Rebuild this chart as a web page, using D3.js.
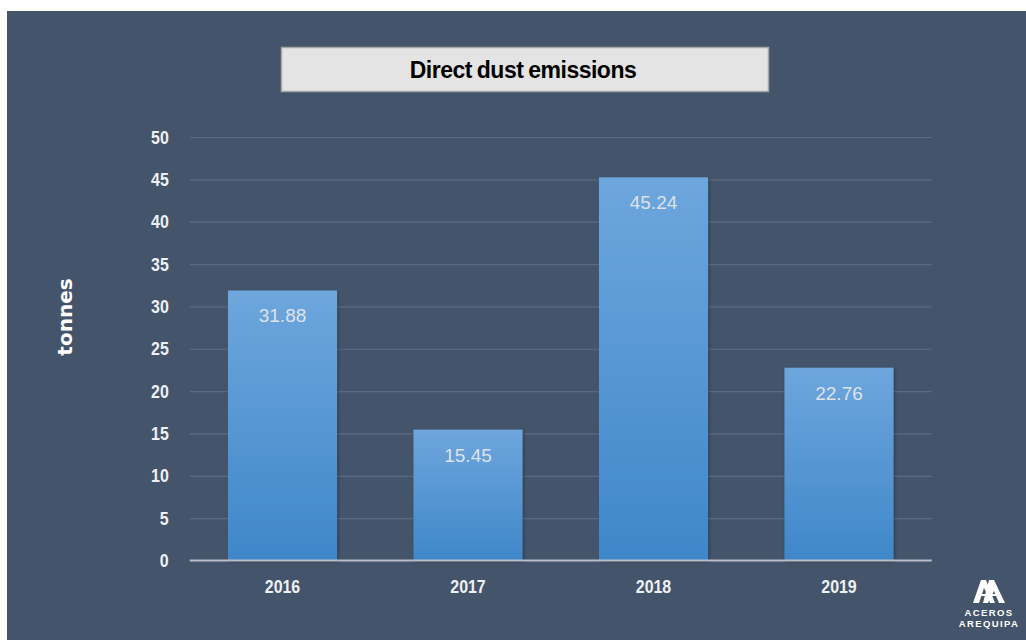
<!DOCTYPE html>
<html><head><meta charset="utf-8">
<script src="https://cdn.jsdelivr.net/npm/d3@7"></script>
<style>
html,body{margin:0;padding:0;background:#fff;}
svg{display:block;}
</style></head>
<body>
<svg id="chart" width="1026" height="640"></svg>
<script>
const categories = ["2016", "2017", "2018", "2019"];
const values = [31.88, 15.45, 45.24, 22.76];
const yTicks = [0, 5, 10, 15, 20, 25, 30, 35, 40, 45, 50];
const titleText = "Direct dust emissions";
const yAxisTitle = "tonnes";
const logoLines = ["ACEROS", "AREQUIPA"];

const svg = d3.select("#chart");
const sans = "'Liberation Sans',Arial,sans-serif";
const squeeze = 0.84;

// background panel
svg.append("rect").attr("x", 7).attr("y", 11).attr("width", 1019).attr("height", 629).attr("fill", "#44546a");

const defs = svg.append("defs");
const grad = defs.append("linearGradient").attr("id", "barGrad").attr("x1", 0).attr("y1", 0).attr("x2", 0).attr("y2", 1);
grad.append("stop").attr("offset", "0%").attr("stop-color", "#6ea6dd");
grad.append("stop").attr("offset", "100%").attr("stop-color", "#3f87c9");
const sh = defs.append("filter").attr("id", "shadow").attr("x", "-20%").attr("y", "-10%").attr("width", "140%").attr("height", "120%");
sh.append("feDropShadow").attr("dx", 1).attr("dy", 1).attr("stdDeviation", 1.5).attr("flood-color", "#000").attr("flood-opacity", 0.35);

// title box
svg.append("rect").attr("x", 281.5).attr("y", 47.5).attr("width", 487).attr("height", 44)
  .attr("fill", "#e4e4e4").attr("stroke", "#a6a6a6").attr("stroke-width", 1.5);
svg.append("text").attr("x", 523).attr("y", 78).attr("text-anchor", "middle")
  .attr("font-family", sans).attr("font-weight", "bold").attr("font-size", 23)
  .attr("letter-spacing", "-0.5").attr("word-spacing", "-1").attr("fill", "#000").text(titleText);

// scales
const x = d3.scaleBand().domain(categories).range([189.75, 931.75]).paddingInner(0.412).paddingOuter(0.206);
const y = d3.scaleLinear().domain([0, 50]).range([560.5, 137]);

// gridlines
const grid = svg.append("g").attr("transform", "translate(189.75,0)")
  .call(d3.axisLeft(y).tickValues(yTicks.filter(t => t > 0)).tickSize(-742).tickFormat(""));
grid.select(".domain").remove();
grid.selectAll("line").attr("stroke", "#5b6a80").attr("stroke-width", 1.2);

// y axis labels
const yAxis = svg.append("g").attr("transform", "translate(189.75,0)")
  .call(d3.axisLeft(y).tickValues(yTicks).tickSize(0).tickPadding(25));
yAxis.select(".domain").remove();
yAxis.selectAll("text").attr("font-family", sans).attr("font-weight", "bold").attr("font-size", 19)
  .attr("fill", "#eef0f3").style("transform", `scaleX(${squeeze})`);

// bars
svg.append("g").selectAll("rect").data(values).join("rect")
  .attr("x", (d, i) => x(categories[i]))
  .attr("y", d => y(d))
  .attr("width", x.bandwidth())
  .attr("height", d => y(0) - y(d))
  .attr("fill", "url(#barGrad)")
  .attr("filter", "url(#shadow)");

// value labels
svg.append("g").selectAll("text").data(values).join("text")
  .attr("x", (d, i) => x(categories[i]) + x.bandwidth() / 2)
  .attr("y", d => y(d) + 32)
  .attr("text-anchor", "middle")
  .attr("font-family", sans).attr("font-size", 19)
  .attr("fill", "#dde2ea")
  .text(d => d.toFixed(2));

// zero line
svg.append("line").attr("x1", 189.75).attr("x2", 931.75).attr("y1", y(0)).attr("y2", y(0))
  .attr("stroke", "#b8bec8").attr("stroke-width", 2);

// x axis labels
const xAxis = svg.append("g").attr("transform", `translate(0,${y(0)})`)
  .call(d3.axisBottom(x).tickSize(0).tickPadding(19));
xAxis.select(".domain").remove();
xAxis.selectAll("text").attr("font-family", sans).attr("font-weight", "bold").attr("font-size", 19)
  .attr("fill", "#eef0f3").style("transform", `scaleX(${squeeze})`);

// y axis title
svg.append("text").attr("transform", "translate(72,317) rotate(-90)")
  .attr("text-anchor", "middle").attr("font-family", "'DejaVu Sans',sans-serif").attr("font-weight", "bold")
  .attr("font-size", 20).attr("fill", "#ffffff").text(yAxisTitle);

// logo
const logo = svg.append("g").attr("fill", "#ffffff");
logo.append("path").attr("d", "M981,580 L986,580 L995,603 L990,603 L986,592 L984,588 L979,603 L973,603 Z");
logo.append("path").attr("d", "M989,580 L994,580 L1005,603 L999,603 L994,591 L988,603 L983,603 Z");
logo.append("rect").attr("x", 978).attr("y", 594).attr("width", 22).attr("height", 2);
logo.selectAll("text").data(logoLines).join("text")
  .attr("x", 989).attr("y", (d, i) => 616 + i * 10.5)
  .attr("text-anchor", "middle").attr("font-family", sans).attr("font-weight", "bold")
  .attr("font-size", 9.5).attr("letter-spacing", "1.4").text(d => d);
</script>
</body></html>
